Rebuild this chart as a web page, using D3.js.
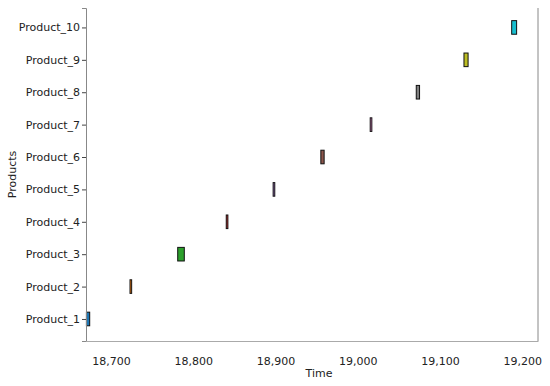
<!DOCTYPE html>
<html>
<head>
<meta charset="UTF-8">
<script src="https://d3js.org/d3.v7.min.js"></script>
<style>
  html, body { margin: 0; padding: 0; background: #fff; }
  body { font-family: 'DejaVu Sans', sans-serif; }
  .axis text { font-family: 'DejaVu Sans', sans-serif; font-size: 11px; fill: #222; }
</style>
</head>
<body>
<div id="chart"></div>
<script>
var products = ["Product_1","Product_2","Product_3","Product_4","Product_5",
                "Product_6","Product_7","Product_8","Product_9","Product_10"];
var starts    = [18670, 18723, 18781, 18840, 18897, 18955, 19015, 19071, 19129, 19187];
var durations = [4, 2, 8, 2, 2, 4, 2, 4, 5, 6];
var colors = ["#1f77b4","#ff7f0e","#2ca02c","#d62728","#9467bd",
              "#8c564b","#e377c2","#7f7f7f","#bcbd22","#17becf"];
var xTicks = [18700, 18800, 18900, 19000, 19100, 19200];

var width = 550, height = 386;
var margin = { top: 8, right: 12, bottom: 45, left: 86 };
var innerW = width - margin.left - margin.right,
    innerH = height - margin.top - margin.bottom;

var svg = d3.select("#chart").append("svg")
  .attr("width", width)
  .attr("height", height);

var g = svg.append("g")
  .attr("transform", "translate(" + margin.left + "," + margin.top + ")");

var x = d3.scaleLinear().domain([18669.5, 19219]).range([0, innerW]);
var y = d3.scaleLinear().domain([-0.68, 9.6]).range([innerH, 0]);

var fmt = d3.format(",");

// bars
g.selectAll(".bar")
  .data(products)
  .enter()
  .append("rect")
  .attr("class", "bar")
  .attr("x", function(d, i) { return x(starts[i]); })
  .attr("width", function(d, i) { return x(starts[i] + durations[i]) - x(starts[i]); })
  .attr("y", function(d, i) { return y(i + 0.21); })
  .attr("height", function(d, i) { return y(i - 0.21) - y(i + 0.21); })
  .attr("fill", function(d, i) { return colors[i]; })
  .attr("stroke", "#111")
  .attr("stroke-width", 1);

// y axis
var yAxis = g.append("g")
  .attr("class", "axis")
  .call(d3.axisLeft(y).tickValues(d3.range(products.length))
    .tickFormat(function(d) { return products[d]; })
    .tickSize(4).tickPadding(2));
yAxis.select(".domain").attr("stroke", "#888");
yAxis.selectAll(".tick line").attr("stroke", "#444");

// x axis
var xAxis = g.append("g")
  .attr("class", "axis")
  .attr("transform", "translate(0," + innerH + ")")
  .call(d3.axisBottom(x).tickValues(xTicks).tickFormat(fmt)
    .tickSize(0).tickPadding(16).tickSizeOuter(0));
xAxis.select(".domain").attr("stroke", "#aaa");

// right spine
g.append("line")
  .attr("x1", innerW).attr("x2", innerW)
  .attr("y1", 0).attr("y2", innerH)
  .attr("stroke", "#888");

// axis titles
svg.append("text")
  .attr("x", 319)
  .attr("y", 377)
  .attr("text-anchor", "middle")
  .style("font-size", "11px")
  .style("fill", "#222")
  .text("Time");

svg.append("text")
  .attr("transform", "translate(16," + (margin.top + innerH / 2) + ") rotate(-90)")
  .attr("text-anchor", "middle")
  .style("font-size", "11px")
  .style("fill", "#222")
  .text("Products");
</script>
</body>
</html>
